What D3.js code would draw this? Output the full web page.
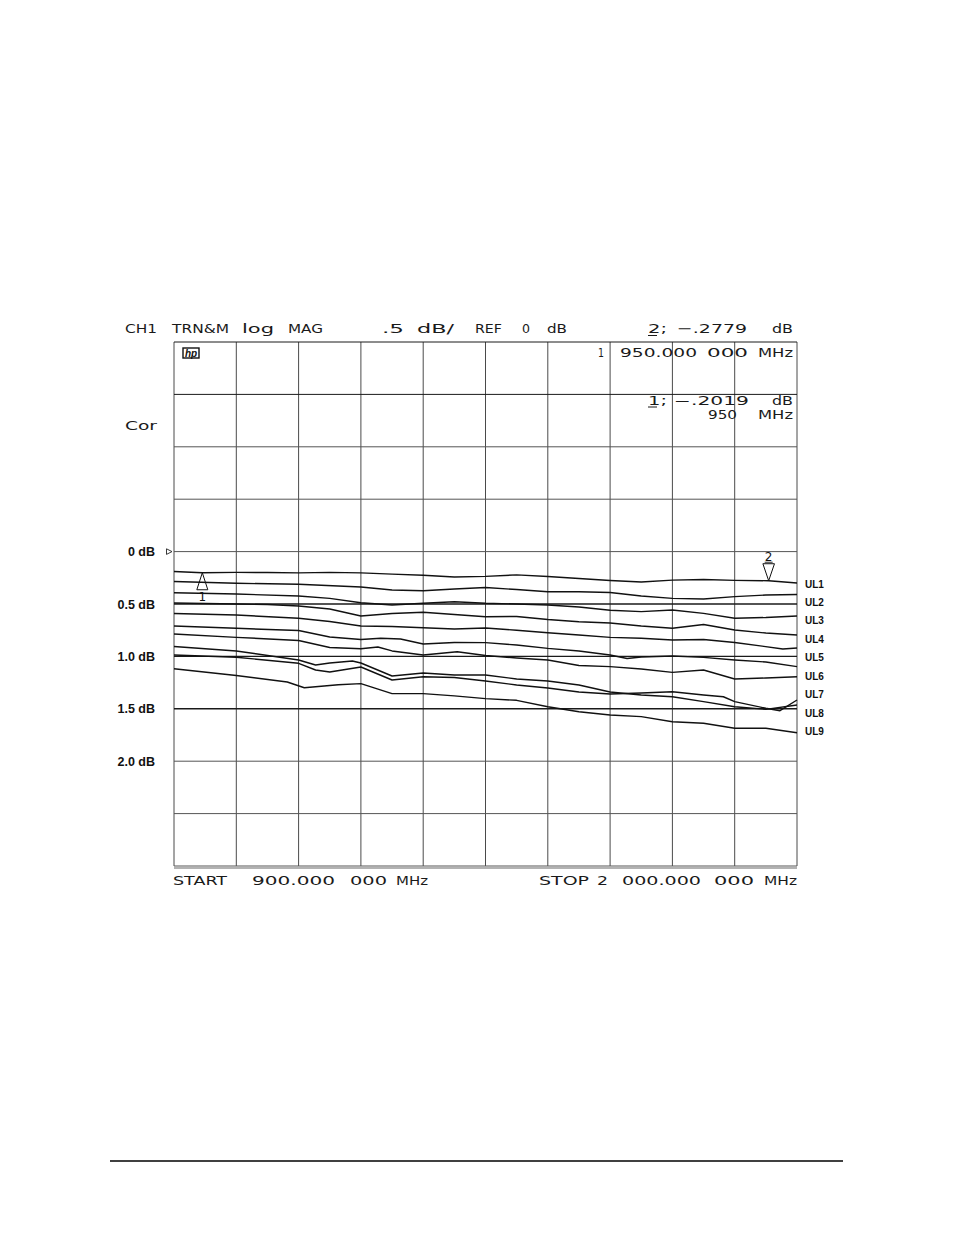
<!DOCTYPE html>
<html><head><meta charset="utf-8">
<script src="https://cdn.jsdelivr.net/npm/d3@7/dist/d3.min.js"></script>
<style>body{margin:0;background:#fff}</style>
</head><body>
<svg id="c" width="954" height="1235" xmlns="http://www.w3.org/2000/svg"></svg>
<script>
// ---------------- DATA ----------------
const startMHz = 900, stopMHz = 2000;
const freqGrid = [900,1010,1120,1230,1340,1450,1560,1670,1780,1890,2000];
const dbGrid = [-2,-1.5,-1,-0.5,0,0.5,1,1.5,2,2.5,3];
const dbTickValues = [0,0.5,1.0,1.5,2.0];
const dbTickLabels = ["0 dB","0.5 dB","1.0 dB","1.5 dB","2.0 dB"];
const seriesLabels = ["UL1","UL2","UL3","UL4","UL5","UL6","UL7","UL8","UL9"];
// insertion loss traces (dB, positive = loss) vs frequency (MHz)
const trace1 = [[900,0.19],[950,0.202],[1010,0.198],[1065,0.20],[1120,0.203],[1175,0.198],[1230,0.203],[1285,0.215],[1340,0.226],[1395,0.242],[1450,0.236],[1505,0.222],[1560,0.238],[1615,0.257],[1670,0.276],[1725,0.29],[1780,0.272],[1835,0.266],[1890,0.275],[1950,0.278],[2000,0.30]];
const trace2 = [[900,0.285],[1010,0.302],[1120,0.312],[1230,0.338],[1285,0.366],[1340,0.373],[1395,0.357],[1450,0.343],[1505,0.362],[1560,0.383],[1615,0.383],[1670,0.39],[1725,0.424],[1780,0.446],[1835,0.452],[1890,0.43],[1945,0.414],[2000,0.409]];
const trace3 = [[900,0.392],[1010,0.405],[1120,0.424],[1175,0.446],[1230,0.488],[1285,0.51],[1340,0.493],[1395,0.478],[1450,0.493],[1505,0.50],[1560,0.51],[1615,0.529],[1670,0.56],[1725,0.573],[1780,0.557],[1835,0.589],[1890,0.636],[1945,0.629],[2000,0.615]];
const trace4 = [[900,0.49],[1010,0.50],[1065,0.505],[1120,0.519],[1175,0.548],[1230,0.614],[1285,0.591],[1340,0.579],[1395,0.60],[1450,0.621],[1505,0.619],[1560,0.648],[1615,0.669],[1670,0.681],[1725,0.71],[1780,0.732],[1835,0.696],[1890,0.748],[1945,0.777],[2000,0.796]];
const trace5 = [[900,0.591],[1010,0.605],[1120,0.636],[1175,0.667],[1230,0.71],[1285,0.715],[1340,0.726],[1395,0.739],[1450,0.729],[1505,0.751],[1560,0.774],[1615,0.796],[1670,0.818],[1725,0.827],[1780,0.844],[1835,0.839],[1890,0.867],[1975,0.929],[2000,0.92]];
const trace6 = [[900,0.71],[1010,0.732],[1120,0.753],[1175,0.815],[1230,0.839],[1265,0.827],[1300,0.834],[1340,0.882],[1395,0.867],[1450,0.869],[1505,0.891],[1560,0.923],[1615,0.948],[1670,0.987],[1700,1.02],[1725,1.006],[1780,0.996],[1835,1.009],[1890,1.034],[1945,1.053],[2000,1.098]];
const trace7 = [[900,0.786],[1010,0.818],[1120,0.848],[1175,0.915],[1230,0.927],[1260,0.91],[1285,0.948],[1340,0.987],[1400,0.955],[1450,0.991],[1505,1.015],[1560,1.034],[1615,1.087],[1670,1.098],[1725,1.12],[1780,1.152],[1835,1.13],[1890,1.216],[1945,1.206],[2000,1.194]];
const trace8 = [[900,0.906],[1010,0.948],[1120,1.034],[1150,1.082],[1175,1.063],[1215,1.044],[1230,1.063],[1285,1.187],[1340,1.158],[1395,1.177],[1450,1.177],[1505,1.216],[1560,1.235],[1615,1.273],[1670,1.34],[1725,1.368],[1780,1.385],[1835,1.432],[1890,1.48],[1945,1.505],[2000,1.464]];
const trace9 = [[900,0.987],[1010,1.008],[1120,1.066],[1150,1.13],[1175,1.149],[1230,1.101],[1285,1.225],[1340,1.194],[1395,1.201],[1450,1.235],[1505,1.273],[1560,1.302],[1615,1.34],[1670,1.359],[1725,1.349],[1780,1.337],[1835,1.368],[1870,1.385],[1890,1.432],[1945,1.495],[1970,1.518],[2000,1.416]];
const trace10 = [[900,1.118],[1010,1.182],[1100,1.244],[1130,1.299],[1150,1.29],[1190,1.27],[1230,1.26],[1285,1.355],[1340,1.355],[1395,1.377],[1450,1.403],[1505,1.419],[1560,1.48],[1615,1.528],[1670,1.559],[1725,1.575],[1780,1.623],[1835,1.638],[1890,1.686],[1945,1.686],[2000,1.728]];
const traces = [trace1,trace2,trace3,trace4,trace5,trace6,trace7,trace8,trace9,trace10];
const marker1 = {freq:950, value:0.2019};
const marker2 = {freq:1950, value:0.2779};

// ---------------- DRAW ----------------
const svg = d3.select("#c");
const x = d3.scaleLinear().domain([startMHz, stopMHz]).range([174, 797]);
const y = d3.scaleLinear().domain([-2, 3]).range([342, 866]);

const hpFont = "'DejaVu Sans', sans-serif";
const lblFont = "'Liberation Sans', Arial, sans-serif";

// grid
const g = svg.append("g");
g.selectAll("line.v").data(freqGrid).join("line")
  .attr("x1", d => x(d)).attr("x2", d => x(d))
  .attr("y1", y(-2)).attr("y2", y(3))
  .attr("stroke", "#4a4a4a").attr("stroke-width", 1);
g.selectAll("line.h").data(dbGrid).join("line")
  .attr("x1", x(startMHz)).attr("x2", x(stopMHz))
  .attr("y1", d => y(d)).attr("y2", d => y(d))
  .attr("stroke", d => (d === 0.5 || d === 1 || d === 1.5 || d === -1.5 || d === -2) ? "#1a1a1a" : "#555")
  .attr("stroke-width", d => (d === 0.5 || d === 1.5) ? 1.6 : (d === 1 ? 1.4 : 1));
// double bottom border
g.append("line").attr("x1", x(startMHz)).attr("x2", x(stopMHz))
  .attr("y1", y(3) + 2).attr("y2", y(3) + 2).attr("stroke", "#666").attr("stroke-width", 1.2);

// traces
const line = d3.line().x(d => x(d[0])).y(d => y(d[1]));
svg.append("g").selectAll("path").data(traces).join("path")
  .attr("d", line).attr("fill", "none").attr("stroke", "#111")
  .attr("stroke-width", 1.4).attr("stroke-linejoin", "round");

// reference marker (▷ at 0 dB)
const r0 = y(0);
svg.append("path").attr("d", `M166.5,${r0-2.8} L172,${r0} L166.5,${r0+2.8} Z`)
  .attr("fill", "#fff").attr("stroke", "#222").attr("stroke-width", 0.9);

// marker 1 (upward triangle, apex on trace)
const m1x = x(marker1.freq), m1y = y(marker1.value);
svg.append("path").attr("d", `M${m1x},${m1y} L${m1x+5.5},${m1y+17} L${m1x-5.5},${m1y+17} Z`)
  .attr("fill", "none").attr("stroke", "#111").attr("stroke-width", 1);
svg.append("text").attr("x", m1x).attr("y", m1y + 28).attr("text-anchor", "middle")
  .attr("font-family", hpFont).attr("font-size", 12).attr("fill", "#111").text("1");
// marker 2 (downward triangle, apex on trace)
const m2x = x(marker2.freq), m2y = y(marker2.value);
svg.append("path").attr("d", `M${m2x},${m2y} L${m2x+5.8},${m2y-17} L${m2x-5.8},${m2y-17} Z`)
  .attr("fill", "none").attr("stroke", "#111").attr("stroke-width", 1);
svg.append("text").attr("x", m2x).attr("y", m2y - 20).attr("text-anchor", "middle")
  .attr("font-family", hpFont).attr("font-size", 12).attr("fill", "#111").text("2");
svg.append("line").attr("x1", m2x-4).attr("x2", m2x+4).attr("y1", m2y-18.5).attr("y2", m2y-18.5)
  .attr("stroke", "#111").attr("stroke-width", 0.9);

// left dB labels
svg.append("g").selectAll("text").data(dbTickValues).join("text")
  .attr("x", 155).attr("y", d => y(d) + 4.5).attr("text-anchor", "end")
  .attr("font-family", lblFont).attr("font-weight", "bold").attr("font-size", 12.5)
  .attr("fill", "#111").text((d, i) => dbTickLabels[i]);

// right series labels
svg.append("g").selectAll("text").data(seriesLabels).join("text")
  .attr("x", 805).attr("y", (d, i) => 587.5 + i * 18.45)
  .attr("font-family", lblFont).attr("font-weight", "bold").attr("font-size", 10)
  .attr("fill", "#111").text(d => d);

// HP analyzer annotation text: [text, x, baseline, width, size]
const ann = [
  ["CH1",125,333,32,13],["TRN&M",172,333,57,13],["log",242,333,32,13],["MAG",288,333,35,13],
  [".5",382,333,22,13],["dB/",417,333,37,13],["REF",475,333,27,13],["0",522,333,8,13],["dB",547,333,20,13],
  ["2;",648,333,19,13],["\u2212.2779",677,333,70,13],["dB",772,333,21,13],
  ["1",598,357,6,13],["950.000",620,357,77,13],["000",707,357,41,13],["MHz",758,357,35,13],
  ["1;",648,405,19,11.5],["\u2212.2019",674,405,75,11.5],["dB",772,405,21,11.5],
  ["950",708,419,29,11.5],["MHz",758,419,35,11.5],
  ["Cor",125,430,32,13],
  ["START",173,885,54,13],["900.000",252,885,83,13],["000",350,885,37,13],["MHz",396,885,32,13],
  ["STOP",539,885,50,13],["2",597,885,11,13],["000.000",622,885,79,13],["000",714,885,40,13],["MHz",764,885,33,13]
];
svg.append("g").selectAll("text").data(ann).join("text")
  .attr("x", d => d[1]).attr("y", d => d[2])
  .attr("textLength", d => d[3]).attr("lengthAdjust", "spacingAndGlyphs")
  .attr("font-family", hpFont).attr("font-size", d => d[4]).attr("fill", "#1a1a1a")
  .text(d => d[0]);
// underlines under "2" and "1" of marker readouts
[[648,335.5],[648,407]].forEach(p => {
  svg.append("line").attr("x1", p[0]).attr("x2", p[0] + 9).attr("y1", p[1]).attr("y2", p[1])
    .attr("stroke", "#1a1a1a").attr("stroke-width", 1);
});

// hp logo
svg.append("rect").attr("x", 183).attr("y", 348).attr("width", 16).attr("height", 10)
  .attr("fill", "#fff").attr("stroke", "#111").attr("stroke-width", 1.4);
svg.append("text").attr("x", 191).attr("y", 356.5).attr("text-anchor", "middle")
  .attr("font-family", lblFont).attr("font-style", "italic").attr("font-weight", "bold")
  .attr("font-size", 10).attr("fill", "#111").text("hp");

// page footer rule
svg.append("line").attr("x1", 110).attr("x2", 843).attr("y1", 1161).attr("y2", 1161)
  .attr("stroke", "#000").attr("stroke-width", 1.4);
</script>
</body></html>
